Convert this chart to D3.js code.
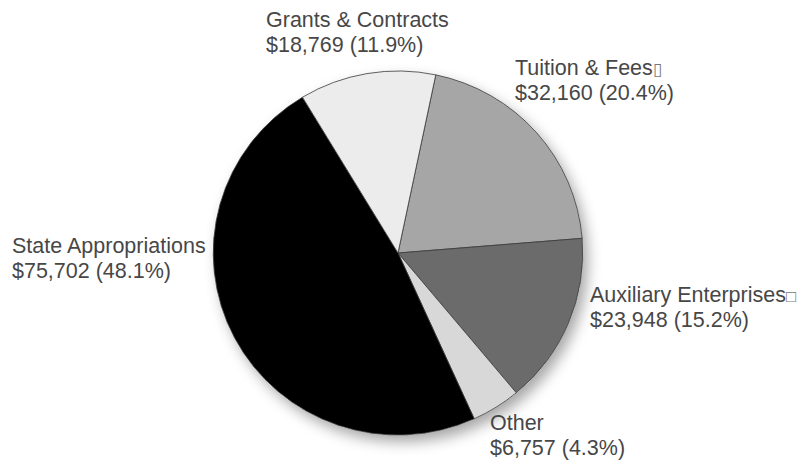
<!DOCTYPE html>
<html>
<head>
<meta charset="utf-8">
<script src="https://cdn.jsdelivr.net/npm/d3@7"></script>
<style>
  body { margin: 0; background: #fff; }
  svg { display: block; }
  .label { font-family: "Liberation Sans", Arial, sans-serif; font-size: 21.5px; fill: #474747; }
  .odd { font-size: 17px; fill: #777; }
</style>
</head>
<body>
<div id="chart"></div>
<script>
// revenue sources (thousands of dollars), drawn clockwise starting with Tuition
var categories = ["Tuition & Fees", "Auxiliary Enterprises", "Other", "State Appropriations", "Grants & Contracts"];
var values = [32160, 23948, 6757, 75702, 18769];
var suffixes = ["\u25AF", "\u25A1", "", "", ""]; // odd trailing glyphs in the original labels
var colors = ["#a6a6a6", "#6b6b6b", "#d8d8d8", "#000000", "#ececec"];

var width = 802, height = 464;
var cx = 398, cy = 253, radius = 182;

// where each label block starts (text x, first baseline)
var labelPos = [
  [515, 75],
  [590, 302],
  [490, 430],
  [12, 253],
  [266, 27]
];

var svg = d3.select("#chart")
  .append("svg")
  .attr("width", width)
  .attr("height", height);

var defs = svg.append("defs");
var shadow = defs.append("filter")
  .attr("id", "shadow")
  .attr("x", "-20%").attr("y", "-20%")
  .attr("width", "150%").attr("height", "150%");
shadow.append("feDropShadow")
  .attr("dx", 5)
  .attr("dy", 7)
  .attr("stdDeviation", 7)
  .attr("flood-color", "#000")
  .attr("flood-opacity", 0.35);

var total = d3.sum(values);

var pie = d3.pie()
  .sort(null)
  .startAngle(11.8 * Math.PI / 180)
  .endAngle(11.8 * Math.PI / 180 + 2 * Math.PI);

var arc = d3.arc()
  .innerRadius(0)
  .outerRadius(radius);

var g = svg.append("g")
  .attr("transform", "translate(" + cx + "," + cy + ") scale(1.015,1)");

g.append("circle")
  .attr("r", radius)
  .attr("fill", "#fff")
  .attr("filter", "url(#shadow)");

g.selectAll(".slice")
  .data(pie(values))
  .enter()
  .append("path")
  .attr("class", "slice")
  .attr("d", arc)
  .attr("fill", (d, i) => colors[i])
  .attr("stroke", "#3a3a3a")
  .attr("stroke-width", 0.8);

var money = d3.format(",");
var pct = d3.format(".1f");

var labels = svg.selectAll(".label")
  .data(categories)
  .enter()
  .append("text")
  .attr("class", "label")
  .attr("x", (d, i) => labelPos[i][0])
  .attr("y", (d, i) => labelPos[i][1]);

labels.append("tspan")
  .text(d => d);

labels.append("tspan")
  .attr("class", "odd")
  .text((d, i) => suffixes[i]);

labels.append("tspan")
  .attr("x", (d, i) => labelPos[i][0])
  .attr("dy", 25)
  .text((d, i) => "$" + money(values[i]) + " (" + pct(values[i] / total * 100) + "%)");
</script>
</body>
</html>
